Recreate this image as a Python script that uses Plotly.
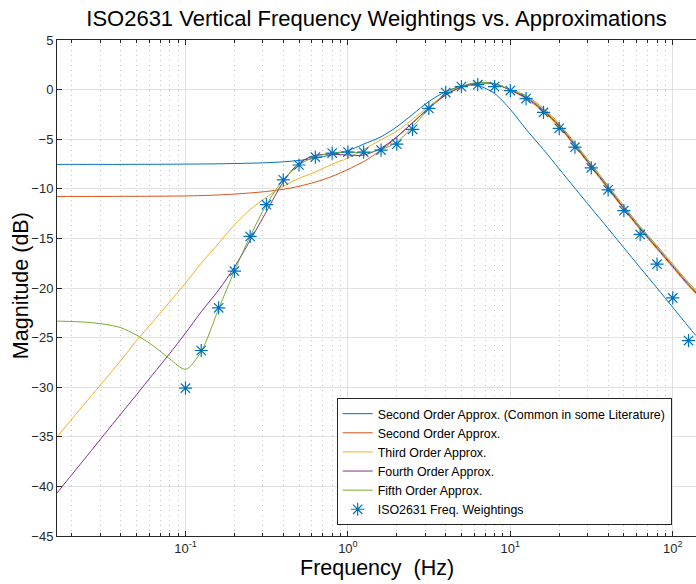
import plotly.graph_objects as go

# ---------------- data ----------------
# frequency grid used to sample the approximation curves (Hz)
freq_curve = [0.0162, 0.02, 0.025, 0.0315, 0.04, 0.05, 0.063, 0.08,
              0.1, 0.125, 0.16, 0.2, 0.25, 0.315, 0.4, 0.5, 0.63, 0.8,
              1, 1.25, 1.6, 2, 2.5, 3.15, 4, 5, 6.3, 8,
              10, 12.5, 16, 20, 25, 31.5, 40, 50, 63, 80, 100, 125, 139]

second_common_db = [-7.54, -7.54, -7.54, -7.54, -7.54, -7.53, -7.53, -7.52,
                    -7.51, -7.50, -7.48, -7.45, -7.42, -7.37, -7.28, -7.14, -6.92, -6.55,
                    -6.15, -5.50, -4.75, -3.75, -2.50, -1.20, -0.20, 0.35, 0.42, -0.40,
                    -2.00, -4.00, -6.05, -8.00, -9.95, -11.95, -14.00, -15.95, -17.95, -20.00, -21.95, -23.90, -24.80]

second_db = [-10.77, -10.77, -10.77, -10.77, -10.76, -10.76, -10.75, -10.74,
             -10.72, -10.68, -10.62, -10.53, -10.42, -10.27, -10.05, -9.75, -9.32, -8.75,
             -8.05, -7.25, -6.10, -4.80, -3.35, -1.85, -0.55, 0.25, 0.65, 0.55,
             -0.05, -0.75, -2.05, -3.60, -5.55, -7.65, -9.85, -11.90, -13.95, -15.90, -17.75, -19.60, -20.40]

third_db = [-35.00, -33.20, -31.30, -29.35, -27.30, -25.30, -23.40, -21.40,
            -19.50, -17.50, -15.50, -13.65, -12.10, -10.85, -9.75, -8.95, -8.30, -7.52,
            -6.90, -6.05, -5.05, -4.20, -3.00, -1.70, -0.45, 0.30, 0.68, 0.60,
            -0.05, -0.95, -2.25, -3.80, -5.75, -7.85, -10.05, -12.10, -14.15, -16.10, -17.95, -19.80, -20.60]

fourth_db = [-40.66, -38.80, -36.85, -34.80, -32.70, -30.75, -28.70, -26.60,
             -24.55, -22.40, -20.20, -17.90, -15.20, -12.30, -9.30, -7.40, -6.62, -6.52,
             -6.60, -6.60, -5.90, -4.75, -3.35, -1.88, -0.55, 0.28, 0.68, 0.58,
             -0.05, -0.85, -2.15, -3.70, -5.65, -7.75, -9.95, -12.00, -14.05, -16.00, -17.85, -19.70, -20.50]

fifth_db = [-23.34, -23.38, -23.46, -23.64, -24.00, -24.75, -25.80, -27.15,
            -28.20, -26.40, -22.10, -18.30, -14.80, -11.60, -9.10, -7.60, -6.75, -6.40,
            -6.25, -6.40, -6.05, -5.30, -3.75, -1.95, -0.40, 0.35, 0.72, 0.62,
            0.00, -0.60, -1.90, -3.45, -5.40, -7.50, -9.70, -11.75, -13.80, -15.75, -17.60, -19.45, -20.25]

# ISO 2631 third-octave weighting points
iso_freq = [0.1, 0.125, 0.16, 0.2, 0.25, 0.315, 0.4, 0.5, 0.63, 0.8,
            1, 1.25, 1.6, 2, 2.5, 3.15, 4, 5, 6.3, 8,
            10, 12.5, 16, 20, 25, 31.5, 40, 50, 63, 80, 100, 125]
iso_db = [-30.1, -26.3, -22.0, -18.3, -14.8, -11.6, -9.1, -7.6, -6.8, -6.4,
          -6.3, -6.3, -6.1, -5.5, -4.0, -1.9, -0.3, 0.3, 0.5, 0.3,
          -0.1, -0.9, -2.3, -3.9, -5.8, -7.9, -10.1, -12.2, -14.6, -17.6, -21.0, -25.3]

series_names = ["Second Order Approx. (Common in some Literature)",
                "Second Order Approx.",
                "Third Order Approx.",
                "Fourth Order Approx.",
                "Fifth Order Approx."]
series_values = [second_common_db, second_db, third_db, fourth_db, fifth_db]
series_colors = ["#0072BD", "#D95319", "#EDB120", "#7E2F8E", "#77AC30"]
iso_name = "ISO2631 Freq. Weightings"

x_tickvals = [0.1, 1, 10, 100]
x_ticktext = ["10<sup>-1</sup>", "10<sup>0</sup>", "10<sup>1</sup>", "10<sup>2</sup>"]
x_minorvals = [m * 10 ** e for e in range(-2, 3) for m in range(2, 10)]
y_tickvals = list(range(-45, 6, 5))

FONT = "Liberation Sans, Arial, Helvetica, sans-serif"
AX = "#262626"

fig = go.Figure()
for name, vals, col in zip(series_names, series_values, series_colors):
    fig.add_trace(go.Scatter(x=freq_curve, y=vals, mode="lines", name=name,
                             line=dict(color=col, width=1, shape="spline", smoothing=0.8)))
fig.add_trace(go.Scatter(x=iso_freq, y=iso_db, mode="markers", name=iso_name,
                         marker=dict(symbol="asterisk-open", size=11, color="#0072BD",
                                     line=dict(color="#0072BD", width=1.2))))

fig.update_layout(
    width=696, height=584,
    margin=dict(l=57, r=0, t=40, b=48),
    paper_bgcolor="white", plot_bgcolor="white",
    font=dict(family=FONT, color=AX, size=13),
    title=dict(text="ISO2631 Vertical Frequency Weightings vs. Approximations",
               font=dict(family=FONT, size=22, color="black"),
               x=0.5, xref="paper", xanchor="center",
               y=1 - 18 / 584, yref="container", yanchor="middle"),
    showlegend=True,
    legend=dict(x=0.4377, y=0.278, xanchor="left", yanchor="top",
                bgcolor="white", bordercolor=AX, borderwidth=1,
                font=dict(family=FONT, size=12.4, color="black"),
                tracegroupgap=0),
    xaxis=dict(type="log", range=[-1.791, 2.143],
               tickmode="array", tickvals=x_tickvals, ticktext=x_ticktext,
               ticks="inside", ticklen=5, tickcolor=AX, tickwidth=1,
               showline=True, linecolor=AX, linewidth=1, mirror="ticks",
               showgrid=True, gridcolor="#e1e1e1", gridwidth=1,
               tickfont=dict(family=FONT, size=13, color=AX),
               minor=dict(tickmode="array", tickvals=x_minorvals,
                          ticks="inside", ticklen=3, tickcolor=AX,
                          showgrid=True, gridcolor="#c4c4c4", griddash="1px,4px", gridwidth=1),
               zeroline=False),
    yaxis=dict(range=[-45, 5], tickmode="array", tickvals=y_tickvals,
               ticks="inside", ticklen=5, tickcolor=AX, tickwidth=1,
               showline=True, linecolor=AX, linewidth=1, mirror=False,
               showgrid=True, gridcolor="#e1e1e1", gridwidth=1,
               tickfont=dict(family=FONT, size=13, color=AX),
               zeroline=False),
    annotations=[
        dict(text="Magnitude (dB)", xref="paper", yref="paper",
             x=(21 - 57) / 639, y=(535.7 - 286) / 495.7, textangle=-90,
             xanchor="center", yanchor="middle", showarrow=False,
             font=dict(family=FONT, size=21.5, color="black")),
        dict(text="Frequency\u00a0 (Hz)", xref="paper", yref="paper",
             x=(377 - 57) / 639, y=(535.7 - 567.5) / 495.7,
             xanchor="center", yanchor="middle", showarrow=False,
             font=dict(family=FONT, size=21.5, color="black")),
    ],
)

fig.write_html("out.html",
               config={"displayModeBar": False},
               post_script="document.body.style.margin='0';document.body.style.overflow='hidden';")
